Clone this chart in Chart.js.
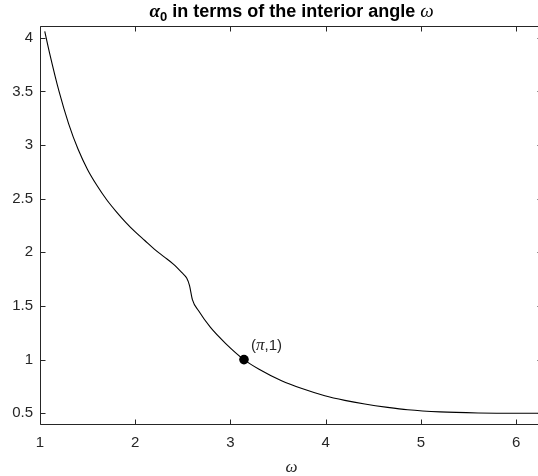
<!DOCTYPE html>
<html lang="en">
<head>
<meta charset="UTF-8">
<title>alpha0 vs interior angle</title>
<script src="https://cdn.jsdelivr.net/npm/chart.js"></script>
<style>
  html, body { margin: 0; padding: 0; overflow: hidden; background: #fff; }
  canvas { display: block; }
</style>
</head>
<body>
<canvas id="chart" width="548" height="476"></canvas>
<script>
// values
const omega  = [1.05, 1.1, 1.2, 1.3, 1.4, 1.5, 1.6, 1.7, 1.8, 1.9, 2.0, 2.1, 2.2, 2.3, 2.4,
                2.49, 2.54, 2.57, 2.6, 2.665, 2.79, 2.95, 3.1416, 3.3, 3.536, 3.75, 3.99,
                4.2, 4.41, 4.65, 4.86, 5.2, 5.6, 6.0, 6.2832];
const alpha0 = [4.06, 3.86, 3.50, 3.20, 2.96, 2.77, 2.62, 2.49, 2.38, 2.28, 2.19, 2.11, 2.03, 1.96, 1.89,
                1.81, 1.76, 1.69, 1.56, 1.455, 1.30, 1.15, 1.0, 0.91, 0.803, 0.73, 0.663,
                0.62, 0.586, 0.555, 0.533, 0.513, 0.503, 0.50, 0.50];
const markX = [3.1416];
const markY = [1];
const markLabel = ['(', 'π', ',1)'];
const xTicks = [1, 2, 3, 4, 5, 6];
const yTicks = [0.5, 1, 1.5, 2, 2.5, 3, 3.5, 4];
const xMin = 1, xMax = 6.2832, yMin = 0.4, yMax = 4.1;

const axisColor = '#262626';
const tickFont = { family: 'Liberation Sans', size: 15 };

// MATLAB-ish box, inward ticks, rich-text title and the point label
const decor = {
  id: 'decor',
  afterDraw(chart) {
    const { ctx, chartArea: a, scales } = chart;
    const L = Math.round(a.left) + 0.5, T = Math.round(a.top) - 0.5;
    const B = Math.round(a.bottom) + 0.5, R = Math.round(a.right) - 0.5;
    ctx.save();
    ctx.strokeStyle = axisColor;
    ctx.lineWidth = 1;
    ctx.beginPath();
    ctx.moveTo(L, T); ctx.lineTo(R, T); ctx.lineTo(R, B); ctx.lineTo(L, B); ctx.closePath();
    const tl = 5;
    xTicks.forEach(v => {
      const x = Math.round(scales.x.getPixelForValue(v)) + 0.5;
      ctx.moveTo(x, B); ctx.lineTo(x, B - tl);
      ctx.moveTo(x, T); ctx.lineTo(x, T + tl);
    });
    yTicks.forEach(v => {
      const y = Math.round(scales.y.getPixelForValue(v)) + 0.5;
      ctx.moveTo(L, y); ctx.lineTo(L + tl, y);
      ctx.moveTo(R, y); ctx.lineTo(R - tl, y);
    });
    ctx.stroke();

    // title
    const parts = [
      { t: 'α', font: 'italic bold 19px "Liberation Serif"', dy: 0 },
      { t: '0', font: 'bold 13px "Liberation Sans"', dy: 4 },
      { t: ' in terms of the interior angle ', font: 'bold 18px "Liberation Sans"', dy: 0 },
      { t: 'ω', font: 'italic 19px "Liberation Serif"', dy: 0 }
    ];
    let total = 0;
    parts.forEach(p => { ctx.font = p.font; p.w = ctx.measureText(p.t).width; total += p.w; });
    let x = (a.left + a.right) / 2 - total / 2;
    ctx.fillStyle = '#000';
    ctx.textBaseline = 'alphabetic';
    ctx.textAlign = 'left';
    parts.forEach(p => { ctx.font = p.font; ctx.fillText(p.t, x, 17 + p.dy); x += p.w; });

    // (π,1) label
    const px = scales.x.getPixelForValue(markX[0]) + 7;
    const py = scales.y.getPixelForValue(markY[0]) - 10;
    const lf = ['15px "Liberation Sans"', 'italic 17px "Liberation Serif"', '15px "Liberation Sans"'];
    let lx = px;
    ctx.fillStyle = axisColor;
    markLabel.forEach((s, i) => { ctx.font = lf[i]; ctx.fillText(s, lx, py); lx += ctx.measureText(s).width; });
    ctx.restore();
  }
};

new Chart(document.getElementById('chart'), {
  data: {
    datasets: [
      {
        type: 'line',
        data: omega.map((w, i) => ({ x: w, y: alpha0[i] })),
        borderColor: '#000',
        borderWidth: 1.1,
        pointRadius: 0,
        cubicInterpolationMode: 'monotone',
        fill: false
      },
      {
        type: 'scatter',
        data: markX.map((w, i) => ({ x: w, y: markY[i] })),
        backgroundColor: '#000',
        borderColor: '#000',
        borderWidth: 0,
        pointRadius: 4.8
      }
    ]
  },
  plugins: [decor],
  options: {
    responsive: false,
    animation: false,
    layout: { padding: { top: 27, right: 2, left: 0, bottom: 0 } },
    plugins: {
      legend: { display: false },
      tooltip: { enabled: false },
      title: { display: false }
    },
    scales: {
      x: {
        type: 'linear',
        min: xMin,
        max: xMax,
        grid: { display: false, drawTicks: false },
        border: { display: false },
        afterBuildTicks: s => { s.ticks = xTicks.map(v => ({ value: v })); },
        afterFit: s => { s.height = 52; },
        ticks: { padding: 10, color: axisColor, font: tickFont, maxRotation: 0, autoSkip: false,
                 callback: v => String(v) },
        title: {
          display: true,
          text: 'ω',
          color: axisColor,
          font: { family: 'Liberation Serif', size: 17, style: 'italic', lineHeight: 1 },
          padding: { top: 0, bottom: 0 }
        }
      },
      y: {
        type: 'linear',
        min: yMin,
        max: yMax,
        grid: { display: false, drawTicks: false },
        border: { display: false },
        afterBuildTicks: s => { s.ticks = yTicks.map(v => ({ value: v })); },
        afterFit: s => { s.width = 40; },
        ticks: { padding: 7, color: axisColor, font: tickFont, autoSkip: false,
                 callback: v => String(v) }
      }
    }
  }
});
</script>
</body>
</html>
